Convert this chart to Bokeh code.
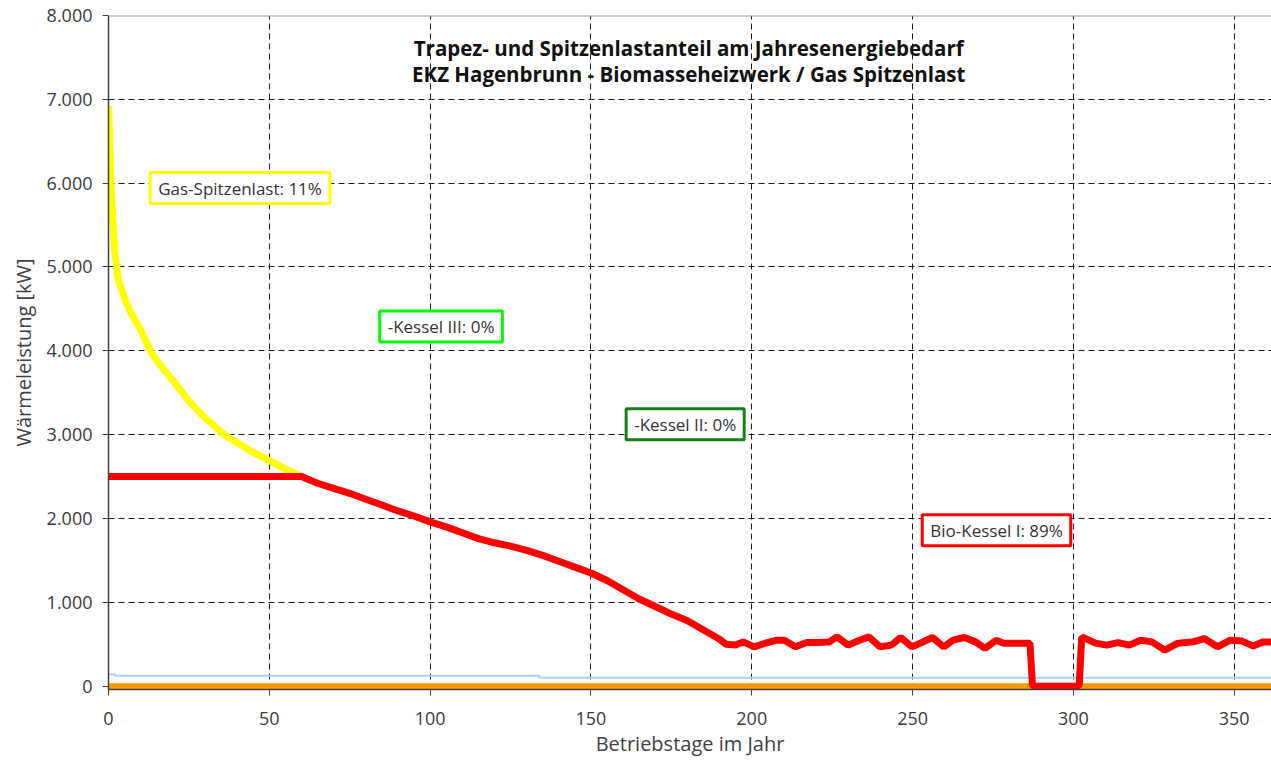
from bokeh.plotting import figure
from bokeh.models import Range1d, FixedTicker, Label, Span
from bokeh.embed import file_html
from bokeh.resources import INLINE

# ---------------- data ----------------
gas_days = [0, 0.4, 0.8, 1.3, 1.9, 3.1, 5.3, 7, 10, 13, 16, 20, 25, 30, 36, 44, 50, 55, 60]
gas_kw = [6920, 6500, 6000, 5600, 5200, 4840, 4600, 4450, 4250, 4000, 3830, 3650, 3400,
          3200, 3000, 2810, 2690, 2590, 2500]

bio_days = [0, 60, 65, 70, 75, 80, 85, 90, 95, 100, 105, 110, 115, 120, 125, 130, 135,
            140, 145, 150, 155, 160, 165, 170, 175, 180, 185, 190, 192, 195, 197.3, 200.8,
            204.3, 207.8, 210.1, 213.6, 217.1, 220.6, 224.1, 226.5, 230, 233.5, 236.4,
            239.9, 243.4, 246.3, 249.8, 253.3, 256.2, 259.7, 262.6, 266.1, 269.6, 272.5,
            276, 278.3, 286.5, 287.3, 301.8, 302.6, 306.9, 310.4, 313.9, 317.4, 320.9,
            324.4, 328.4, 332.5, 337.2, 340.7, 344.8, 348.8, 352.3, 355.8, 359.1, 362]
bio_kw = [2500, 2500, 2420, 2360, 2300, 2230, 2160, 2090, 2030, 1960, 1900, 1830, 1760,
          1710, 1670, 1620, 1560, 1490, 1420, 1350, 1260, 1150, 1040, 950, 860, 780, 670,
          560, 500, 490, 528, 469, 513, 548, 548, 469, 520, 520, 528, 588, 489, 548, 588,
          469, 489, 580, 469, 528, 580, 469, 548, 580, 528, 450, 548, 513, 513, 0, 0,
          588, 513, 489, 520, 489, 548, 528, 430, 513, 528, 568, 469, 548, 540, 480, 528, 528]

blue_days = [0, 2, 2, 134, 134, 362]
blue_kw = [143, 143, 123, 123, 99, 99]

orange_days = [0, 362]
orange_kw = [0, 0]

x_ticks = [0, 50, 100, 150, 200, 250, 300, 350]
y_ticks = [0, 1000, 2000, 3000, 4000, 5000, 6000, 7000, 8000]
y_tick_labels = ["0", "1.000", "2.000", "3.000", "4.000", "5.000", "6.000", "7.000", "8.000"]

title_lines = ["Trapez- und Spitzenlastanteil am Jahresenergiebedarf",
               "EKZ Hagenbrunn - Biomasseheizwerk / Gas Spitzenlast"]
box_texts = ["Gas-Spitzenlast: 11%", "-Kessel III: 0%", "-Kessel II: 0%", "Bio-Kessel I: 89%"]
box_x = [40.9, 103.4, 179.3, 276.1]
box_y = [5942, 4291, 3123, 1860]
box_colors = ["#ffff00", "#00ff00", "#168016", "#ff0000"]

FONT = "Open Sans"

p = figure(width=1271, height=762, output_backend="svg", toolbar_location=None,
           x_range=Range1d(0, 361.6), y_range=Range1d(-40, 8000),
           min_border_left=108, min_border_right=0, min_border_top=15, min_border_bottom=73)
p.outline_line_color = None
p.background_fill_color = "white"

# grid
for g in (p.xgrid, p.ygrid):
    g.grid_line_color = "#1a1a1a"
    g.grid_line_dash = "6 4"
    g.grid_line_width = 1
p.xaxis.ticker = FixedTicker(ticks=x_ticks)
p.yaxis.ticker = FixedTicker(ticks=y_ticks)
p.yaxis.major_label_overrides = {t: l for t, l in zip(y_ticks, y_tick_labels)}

for ax in (p.xaxis, p.yaxis):
    ax.axis_line_color = "#404040"
    ax.axis_line_width = 1.5
    ax.major_tick_line_color = "#404040"
    ax.major_tick_in = 0
    ax.major_tick_out = 6
    ax.minor_tick_line_color = None
    ax.major_label_text_font = FONT
    ax.major_label_text_font_size = "18px"
    ax.major_label_text_color = "#3a3a3a"
    ax.axis_label_text_font = FONT
    ax.axis_label_text_font_size = "20px"
    ax.axis_label_text_font_style = "normal"
    ax.axis_label_text_color = "#404040"

p.xaxis.axis_label = "Betriebstage im Jahr"
p.yaxis.axis_label = "Wärmeleistung [kW]"
p.xaxis.major_label_standoff = 16
p.xaxis.axis_label_standoff = 2
p.yaxis.major_label_standoff = 10
p.yaxis.axis_label_standoff = 7

# top border line
p.add_layout(Span(location=8000, dimension="width", line_color="#a0a0a0", line_width=2))

# series
p.line(orange_days, orange_kw, line_color="#ff9900", line_width=6)
p.line(blue_days, blue_kw, line_color="#a8d0f8", line_width=2)
p.line(gas_days, gas_kw, line_color="#ffff00", line_width=7)
p.line(bio_days, bio_kw, line_color="#ff0000", line_width=7)

# title
for i, t in enumerate(title_lines):
    p.add_layout(Label(x=180.4, y=7618 - i * 310, text=t, text_align="center",
                       text_baseline="middle", text_font=FONT, text_font_size="20.5px",
                       text_font_style="bold", text_color="#111111"))

# boxes
for t, bx, by, c in zip(box_texts, box_x, box_y, box_colors):
    p.add_layout(Label(x=bx, y=by, text=t, text_align="center", text_baseline="middle",
                       text_font=FONT, text_font_size="17px", text_color="#333333",
                       border_line_color=c, border_line_width=3,
                       background_fill_color="white",
                       padding=dict(left=8, right=8, top=4, bottom=4)))

open("out.html", "w").write(file_html(p, INLINE))
